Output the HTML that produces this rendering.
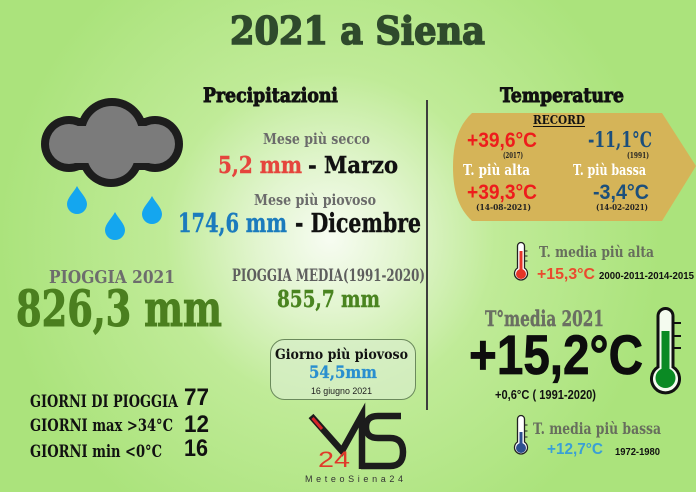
<!DOCTYPE html>
<html><head><meta charset="utf-8"><style>
html,body{margin:0;padding:0;width:696px;height:492px;overflow:hidden;background:#b0e683}
svg{display:block}
.s{font-family:"DejaVu Serif","Liberation Serif",serif;font-weight:bold}
.n{font-family:"Liberation Sans",sans-serif;font-weight:bold}
</style></head><body>
<svg width="696" height="492" viewBox="0 0 696 492" xmlns="http://www.w3.org/2000/svg">
<defs>
<radialGradient id="bg" gradientUnits="userSpaceOnUse" cx="330" cy="238" r="330">
<stop offset="0" stop-color="#f7fcf2"/>
<stop offset="0.22" stop-color="#e2f5cf"/>
<stop offset="0.5" stop-color="#c0eb98"/>
<stop offset="1" stop-color="#abe37c"/>
</radialGradient>
</defs>
<rect width="696" height="492" fill="url(#bg)"/>

<!-- Title -->
<text class="s" x="230" y="44" font-size="38" fill="#2f4a2c" stroke="#2f4a2c" stroke-width="1.6" textLength="255" lengthAdjust="spacingAndGlyphs">2021 a Siena</text>
<text class="s" x="203" y="102" font-size="20" fill="#111" stroke="#111" stroke-width="0.9" textLength="135" lengthAdjust="spacingAndGlyphs">Precipitazioni</text>
<text class="s" x="500" y="102" font-size="20" fill="#111" stroke="#111" stroke-width="0.9" textLength="124" lengthAdjust="spacingAndGlyphs">Temperature</text>

<!-- divider -->
<line x1="427" y1="100" x2="427" y2="410" stroke="#3d3d3d" stroke-width="2"/>

<!-- Cloud -->
<g fill="#1d1d1d">
<circle cx="69" cy="144" r="28"/><circle cx="112" cy="133" r="35"/><circle cx="155" cy="144" r="28"/><circle cx="111" cy="155" r="32"/>
<rect x="69" y="118" width="86" height="52"/>
</g>
<g fill="#7b7b7b">
<circle cx="69" cy="144" r="20"/><circle cx="112" cy="133" r="27"/><circle cx="155" cy="144" r="20"/><circle cx="111" cy="155" r="24"/>
<rect x="69" y="126" width="86" height="37"/>
</g>
<g fill="#14a6ef">
<path transform="translate(77,200)" d="M0,-14 C3,-8 10,-2 10,4 A10,10 0 0 1 -10,4 C-10,-2 -3,-8 0,-14 Z"/>
<path transform="translate(115,226)" d="M0,-14 C3,-8 10,-2 10,4 A10,10 0 0 1 -10,4 C-10,-2 -3,-8 0,-14 Z"/>
<path transform="translate(152,210)" d="M0,-14 C3,-8 10,-2 10,4 A10,10 0 0 1 -10,4 C-10,-2 -3,-8 0,-14 Z"/>
</g>

<!-- Precipitazioni middle -->
<text class="s" x="263" y="144" font-size="15" fill="#6b6b6b" textLength="107" lengthAdjust="spacingAndGlyphs">Mese più secco</text>
<text class="s" x="218" y="173" font-size="23" fill="#e5453d" stroke="#e5453d" stroke-width="0.4" textLength="84" lengthAdjust="spacingAndGlyphs">5,2 mm</text>
<text class="s" x="308" y="173" font-size="23" fill="#111" stroke="#111" stroke-width="0.4" textLength="90" lengthAdjust="spacingAndGlyphs">- Marzo</text>
<text class="s" x="254" y="205" font-size="15" fill="#6b6b6b" textLength="122" lengthAdjust="spacingAndGlyphs">Mese più piovoso</text>
<text class="s" x="178" y="232" font-size="26" fill="#1b7bbd" stroke="#1b7bbd" stroke-width="0.4" textLength="109" lengthAdjust="spacingAndGlyphs">174,6 mm</text>
<text class="s" x="295" y="232" font-size="26" fill="#111" stroke="#111" stroke-width="0.4" textLength="126" lengthAdjust="spacingAndGlyphs">- Dicembre</text>

<text class="s" x="49" y="283" font-size="18" fill="#6d6d6d" textLength="126" lengthAdjust="spacingAndGlyphs">PIOGGIA 2021</text>
<text class="s" x="16" y="326" font-size="50" fill="#4b7f1f" stroke="#4b7f1f" stroke-width="1" textLength="206" lengthAdjust="spacingAndGlyphs">826,3 mm</text>

<text class="s" x="232" y="281" font-size="17" fill="#5e5e5e" textLength="193" lengthAdjust="spacingAndGlyphs">PIOGGIA MEDIA(1991-2020)</text>
<text class="s" x="277" y="307" font-size="23" fill="#4a8420" stroke="#4a8420" stroke-width="0.4" textLength="103" lengthAdjust="spacingAndGlyphs">855,7 mm</text>

<rect x="270.5" y="339.5" width="145" height="60" rx="14" fill="#d7eec8" fill-opacity="0.75" stroke="#6b8a5c" stroke-width="1"/>
<text class="s" x="275" y="359" font-size="14" fill="#111" textLength="133" lengthAdjust="spacingAndGlyphs">Giorno più piovoso</text>
<text class="s" x="309" y="378" font-size="17" fill="#2a8fcf" stroke="#2a8fcf" stroke-width="0.3" textLength="68" lengthAdjust="spacingAndGlyphs">54,5mm</text>
<text x="311" y="394" font-family="Liberation Sans,sans-serif" font-size="9" fill="#222" textLength="61" lengthAdjust="spacingAndGlyphs">16 giugno 2021</text>

<!-- Giorni -->
<text class="s" x="30" y="407" font-size="16.5" fill="#111" textLength="148" lengthAdjust="spacingAndGlyphs">GIORNI DI PIOGGIA</text>
<text class="n" x="184" y="405" font-size="24" fill="#111" textLength="25" lengthAdjust="spacingAndGlyphs">77</text>
<text class="s" x="30" y="431" font-size="16.5" fill="#111" textLength="143" lengthAdjust="spacingAndGlyphs">GIORNI max &gt;34°C</text>
<text class="n" x="184" y="432" font-size="24" fill="#111" textLength="25" lengthAdjust="spacingAndGlyphs">12</text>
<text class="s" x="30" y="457" font-size="16.5" fill="#111" textLength="132" lengthAdjust="spacingAndGlyphs">GIORNI min &lt;0°C</text>
<text class="n" x="184" y="456" font-size="24" fill="#111" textLength="24" lengthAdjust="spacingAndGlyphs">16</text>

<!-- Logo -->
<polyline points="311,416 342,451 362,415 362,469" fill="none" stroke="#1c1c1c" stroke-width="6.5" stroke-linejoin="miter"/>
<line x1="312.5" y1="418" x2="322" y2="429" stroke="#d8262a" stroke-width="3"/>
<path d="M401 416 L378 416 Q366 416 366 427 Q366 438 378 438 L390 438 Q403 438 403 452 Q403 466 390 466 L361 466" fill="none" stroke="#1c1c1c" stroke-width="6.5"/>
<text x="318" y="467" font-family="Liberation Sans,sans-serif" font-size="22" fill="#e03a2a" textLength="32" lengthAdjust="spacingAndGlyphs">24</text>
<text x="305" y="482" font-family="Liberation Sans,sans-serif" font-size="9" fill="#333" textLength="98" lengthAdjust="spacing">MeteoSiena24</text>

<!-- Record badge -->
<path d="M472 113 L662 113 L696 166 L662 221 L472 221 C458 208 453 190 453 167 C453 144 458 126 472 113 Z" fill="#d5b458"/>
<text class="s" x="533" y="124" font-size="12" fill="#111" textLength="52" lengthAdjust="spacingAndGlyphs">RECORD</text>
<line x1="533" y1="126.5" x2="585" y2="126.5" stroke="#111" stroke-width="1"/>
<text class="n" x="467" y="147" font-size="21" fill="#ee1c1c" textLength="70" lengthAdjust="spacingAndGlyphs">+39,6°C</text>
<text class="s" x="503" y="158" font-size="8" fill="#222" textLength="20" lengthAdjust="spacingAndGlyphs">(2017)</text>
<text class="s" x="588" y="147" font-size="21" fill="#1b4f7c" textLength="64" lengthAdjust="spacingAndGlyphs">-11,1°C</text>
<text class="s" x="627" y="158" font-size="8" fill="#222" textLength="22" lengthAdjust="spacingAndGlyphs">(1991)</text>
<text class="s" x="463" y="175" font-size="15" fill="#ffffff" textLength="67" lengthAdjust="spacingAndGlyphs">T. più alta</text>
<text class="s" x="573" y="175" font-size="15" fill="#ffffff" textLength="73" lengthAdjust="spacingAndGlyphs">T. più bassa</text>
<text class="n" x="467" y="199" font-size="21" fill="#ee1c1c" textLength="70" lengthAdjust="spacingAndGlyphs">+39,3°C</text>
<text class="s" x="476" y="210" font-size="8.5" fill="#222" textLength="55" lengthAdjust="spacingAndGlyphs">(14-08-2021)</text>
<text class="n" x="593" y="199" font-size="21" fill="#1b4f7c" textLength="56" lengthAdjust="spacingAndGlyphs">-3,4°C</text>
<text class="s" x="596" y="210" font-size="8.5" fill="#222" textLength="52" lengthAdjust="spacingAndGlyphs">(14-02-2021)</text>

<!-- T media più alta -->
<g>
<path d="M517.5 246 a3.5 3.5 0 0 1 7 0 V268 a6.5 6.5 0 1 1 -7 0 Z" fill="#fff" stroke="#222" stroke-width="1.3"/>
<rect x="519.5" y="251" width="3" height="20" fill="#e53528"/>
<circle cx="521" cy="274" r="5" fill="#e53528"/>
<path d="M524.5 251 h3 M524.5 256 h3 M524.5 261 h3" stroke="#222" stroke-width="1"/>
</g>
<text class="s" x="539" y="257" font-size="15" fill="#676e5d" textLength="115" lengthAdjust="spacingAndGlyphs">T. media più alta</text>
<text class="n" x="537" y="279" font-size="16" fill="#ea4a2e" textLength="58" lengthAdjust="spacingAndGlyphs">+15,3°C</text>
<text class="n" x="599" y="279" font-size="10" fill="#111" textLength="95" lengthAdjust="spacingAndGlyphs">2000-2011-2014-2015</text>

<!-- T media 2021 -->
<text class="s" x="485" y="326" font-size="21" fill="#6a6f62" stroke="#6a6f62" stroke-width="0.4" textLength="119" lengthAdjust="spacingAndGlyphs">T°media 2021</text>
<text class="n" x="469" y="374" font-size="56" fill="#0d0d0d" stroke="#0d0d0d" stroke-width="0.8" textLength="174" lengthAdjust="spacingAndGlyphs">+15,2°C</text>
<text class="n" x="495" y="399" font-size="13" fill="#111" textLength="101" lengthAdjust="spacingAndGlyphs">+0,6°C ( 1991-2020)</text>

<g>
<path d="M658 316 a7.5 7.5 0 0 1 15 0 V367 a14 14 0 1 1 -15 0 Z" fill="#f4fbef" stroke="#111" stroke-width="3"/>
<rect x="661.5" y="331" width="8" height="42" fill="#0b8a24"/>
<circle cx="665.5" cy="378" r="10" fill="#0b8a24"/>
<path d="M673 323 h8 M673 336 h8 M673 348 h8" stroke="#111" stroke-width="2"/>
</g>

<!-- T media più bassa -->
<g>
<path d="M517.5 419 a3.5 3.5 0 0 1 7 0 V442 a6.5 6.5 0 1 1 -7 0 Z" fill="#fff" stroke="#222" stroke-width="1.3"/>
<rect x="519.5" y="432" width="3" height="14" fill="#2d4f8f"/>
<circle cx="521" cy="448" r="5" fill="#2d4f8f"/>
<path d="M524.5 425 h3 M524.5 431 h3 M524.5 437 h3" stroke="#222" stroke-width="1"/>
</g>
<text class="s" x="533" y="434" font-size="16" fill="#676e5d" textLength="128" lengthAdjust="spacingAndGlyphs">T. media più bassa</text>
<text class="n" x="547" y="454" font-size="16" fill="#3a9fd6" textLength="56" lengthAdjust="spacingAndGlyphs">+12,7°C</text>
<text class="n" x="615" y="455" font-size="10" fill="#111" textLength="45" lengthAdjust="spacingAndGlyphs">1972-1980</text>
</svg>
</body></html>
